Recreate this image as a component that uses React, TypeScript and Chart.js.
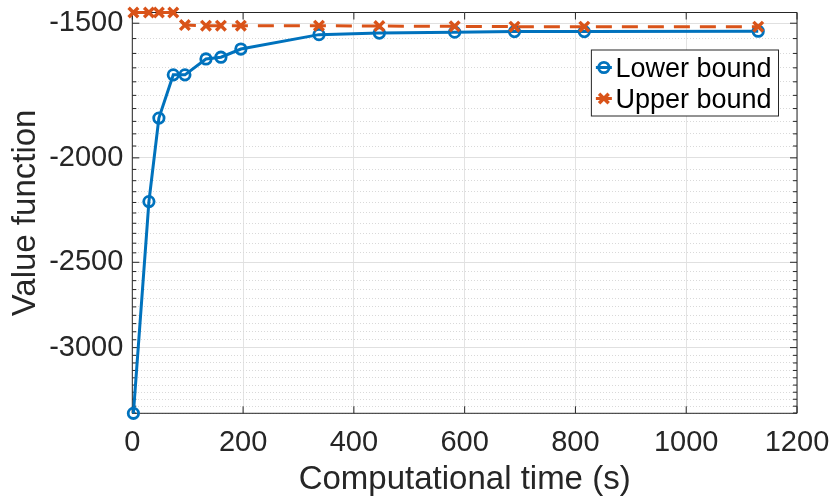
import React, { useEffect, useRef } from 'react';
import { Chart, registerables } from 'chart.js';

Chart.register(...registerables);

// ---- data ----
const timeSec = [2, 30, 48, 74, 95, 133, 160, 196, 337, 446, 582, 690, 816, 1130];
const lowerBound = [-3452, -2196, -1837, -1675, -1675, -1619, -1613, -1585, -1537, -1532, -1529, -1527, -1527, -1526];
const upperBound = [-1466, -1466, -1466, -1466, -1506, -1508, -1508, -1508, -1508, -1509, -1510, -1511, -1511, -1511];
const seriesNames = ['Lower bound', 'Upper bound'];
const xTickValues = [0, 200, 400, 600, 800, 1000, 1200];
const yMajorTicks = [-1500, -2000, -2500, -3000];
const yMinorStep = 50;
const yLimits = [-3452, -1466];
const xLimits = [0, 1200];

const FONT = '"Liberation Sans", Arial, Helvetica, sans-serif';
const AXIS_COLOR = '#262626';
const BLUE = '#0072BD';
const ORANGE = '#D95319';

const isMajorMag = (m: number) => yMajorTicks.includes(-m);

const framePlugin = {
  id: 'matlabFrame',
  beforeDatasetsDraw(chart: any) {
    const { ctx, chartArea, scales } = chart;
    const { left, right, top, bottom } = chartArea;
    const xs = scales.x;
    const ys = scales.y;
    ctx.save();
    ctx.strokeStyle = AXIS_COLOR;
    ctx.lineWidth = 1;
    ctx.setLineDash([]);
    ctx.beginPath();
    xs.ticks.forEach((t: any) => {
      const px = xs.getPixelForValue(t.value);
      ctx.moveTo(px, bottom);
      ctx.lineTo(px, bottom - 7);
      ctx.moveTo(px, top);
      ctx.lineTo(px, top + 7);
    });
    ys.ticks.forEach((t: any) => {
      const py = ys.getPixelForValue(t.value);
      const len = isMajorMag(t.value) ? 7 : 4;
      ctx.moveTo(left, py);
      ctx.lineTo(left + len, py);
      ctx.moveTo(right, py);
      ctx.lineTo(right - len, py);
    });
    ctx.rect(left, top, right - left, bottom - top);
    ctx.stroke();
    ctx.restore();
  },
};

const boxLegendPlugin = {
  id: 'boxLegend',
  afterDraw(chart: any) {
    const { ctx, chartArea } = chart;
    const datasets = chart.data.datasets;
    ctx.save();
    ctx.font = `27px ${FONT}`;
    const textW = Math.max(...datasets.map((d: any) => ctx.measureText(d.label).width));
    const boxW = 24 + textW + 7;
    const rowGap = 31;
    const boxH = 17.5 * 2 + rowGap * (datasets.length - 1);
    const right = chartArea.right - 18.5;
    const left = right - boxW;
    const top = chartArea.top + 37.5;
    ctx.fillStyle = '#ffffff';
    ctx.fillRect(left, top, boxW, boxH);
    ctx.strokeStyle = AXIS_COLOR;
    ctx.lineWidth = 1;
    ctx.strokeRect(left, top, boxW, boxH);
    datasets.forEach((ds: any, i: number) => {
      const cy = top + 17.5 + i * rowGap;
      const mx = left + 12.5;
      ctx.strokeStyle = ds.borderColor;
      ctx.lineWidth = ds.borderWidth;
      ctx.setLineDash([]);
      ctx.beginPath();
      ctx.moveTo(left + 4.5, cy);
      ctx.lineTo(left + 20.5, cy);
      ctx.stroke();
      ctx.lineWidth = ds.pointBorderWidth;
      ctx.beginPath();
      if (ds.pointStyle === 'circle') {
        ctx.arc(mx, cy, ds.pointRadius, 0, Math.PI * 2);
      } else {
        const d = ds.pointRadius * Math.SQRT1_2;
        ctx.moveTo(mx - d, cy - d);
        ctx.lineTo(mx + d, cy + d);
        ctx.moveTo(mx - d, cy + d);
        ctx.lineTo(mx + d, cy - d);
      }
      ctx.stroke();
      ctx.fillStyle = '#000000';
      ctx.textAlign = 'left';
      ctx.textBaseline = 'alphabetic';
      ctx.fillText(ds.label, left + 24, cy + 9.7);
    });
    ctx.restore();
  },
};

export default function App() {
  const canvasRef = useRef<HTMLCanvasElement | null>(null);

  useEffect(() => {
    document.body.style.margin = '0';
    const canvas = canvasRef.current;
    if (!canvas) return;

    const chart = new Chart(canvas, {
      type: 'line',
      data: {
        datasets: [
          {
            label: seriesNames[0],
            data: timeSec.map((t, i) => ({ x: t, y: -lowerBound[i] })),
            borderColor: BLUE,
            backgroundColor: BLUE,
            borderWidth: 3,
            pointStyle: 'circle',
            pointRadius: 5.2,
            pointBorderWidth: 2.8,
            pointBackgroundColor: 'rgba(0,0,0,0)',
            pointBorderColor: BLUE,
            tension: 0,
            clip: false as any,
            order: 1,
          },
          {
            label: seriesNames[1],
            data: timeSec.map((t, i) => ({ x: t, y: -upperBound[i] })),
            borderColor: ORANGE,
            backgroundColor: ORANGE,
            borderWidth: 3,
            borderDash: [16, 10],
            pointStyle: 'crossRot',
            pointRadius: 6.8,
            pointBorderWidth: 3.4,
            pointBorderColor: ORANGE,
            tension: 0,
            clip: false as any,
            order: 0,
          },
        ],
      },
      options: {
        animation: false,
        responsive: false,
        maintainAspectRatio: false,
        layout: { padding: { left: 0, top: 12.5, right: 39, bottom: 0 } },
        plugins: {
          legend: { display: false },
          tooltip: { enabled: false },
          title: { display: false },
        },
        scales: {
          x: {
            type: 'linear',
            min: xLimits[0],
            max: xLimits[1],
            afterBuildTicks: (scale: any) => {
              scale.ticks = xTickValues.map((v) => ({ value: v }));
            },
            afterFit: (scale: any) => {
              scale.height = 503 - 413.3;
              scale.paddingLeft = 0;
              scale.paddingRight = 0;
            },
            ticks: {
              autoSkip: false,
              maxRotation: 0,
              padding: 12,
              color: AXIS_COLOR,
              font: { family: FONT, size: 29, lineHeight: 1.2 },
              callback: (v: any) => String(v),
            },
            grid: {
              drawTicks: false,
              color: '#e3e3e3',
              lineWidth: 1,
            },
            border: { display: false },
            title: {
              display: true,
              text: 'Computational time (s)',
              color: AXIS_COLOR,
              font: { family: FONT, size: 33, lineHeight: 1.2 },
              padding: { top: 0, bottom: 3.3 },
            },
          },
          y: {
            type: 'logarithmic',
            reverse: true,
            min: -yLimits[1],
            max: -yLimits[0],
            afterBuildTicks: (scale: any) => {
              const lo = Math.ceil(-yLimits[1] / yMinorStep) * yMinorStep;
              const hi = -yLimits[0];
              const ticks: any[] = [];
              for (let m = lo; m <= hi; m += yMinorStep) ticks.push({ value: m, major: isMajorMag(m) });
              scale.ticks = ticks;
            },
            afterFit: (scale: any) => {
              scale.width = 132.3;
              scale.paddingTop = 0;
              scale.paddingBottom = 0;
            },
            ticks: {
              autoSkip: false,
              padding: 9,
              color: AXIS_COLOR,
              font: { family: FONT, size: 29, lineHeight: 1.2 },
              callback: (v: any) => (isMajorMag(Number(v)) ? String(-Number(v)) : ''),
            },
            grid: {
              drawTicks: false,
              lineWidth: 1,
              color: (ctx: any) => (ctx.tick && isMajorMag(ctx.tick.value) ? '#e0e0e0' : '#d9d9d9'),
            },
            border: {
              display: false,
              dash: (ctx: any) => (ctx.tick && !isMajorMag(ctx.tick.value) ? [1, 2] : []),
            },
            title: {
              display: true,
              text: 'Value function',
              color: AXIS_COLOR,
              font: { family: FONT, size: 33, lineHeight: 1.2 },
              padding: { top: 6.4, bottom: 0 },
            },
          },
        },
      },
      plugins: [framePlugin, boxLegendPlugin],
    } as any);

    return () => chart.destroy();
  }, []);

  return (
    <div style={{ width: 836, height: 503, background: '#ffffff' }}>
      <canvas ref={canvasRef} width={836} height={503} style={{ display: 'block' }} />
    </div>
  );
}
